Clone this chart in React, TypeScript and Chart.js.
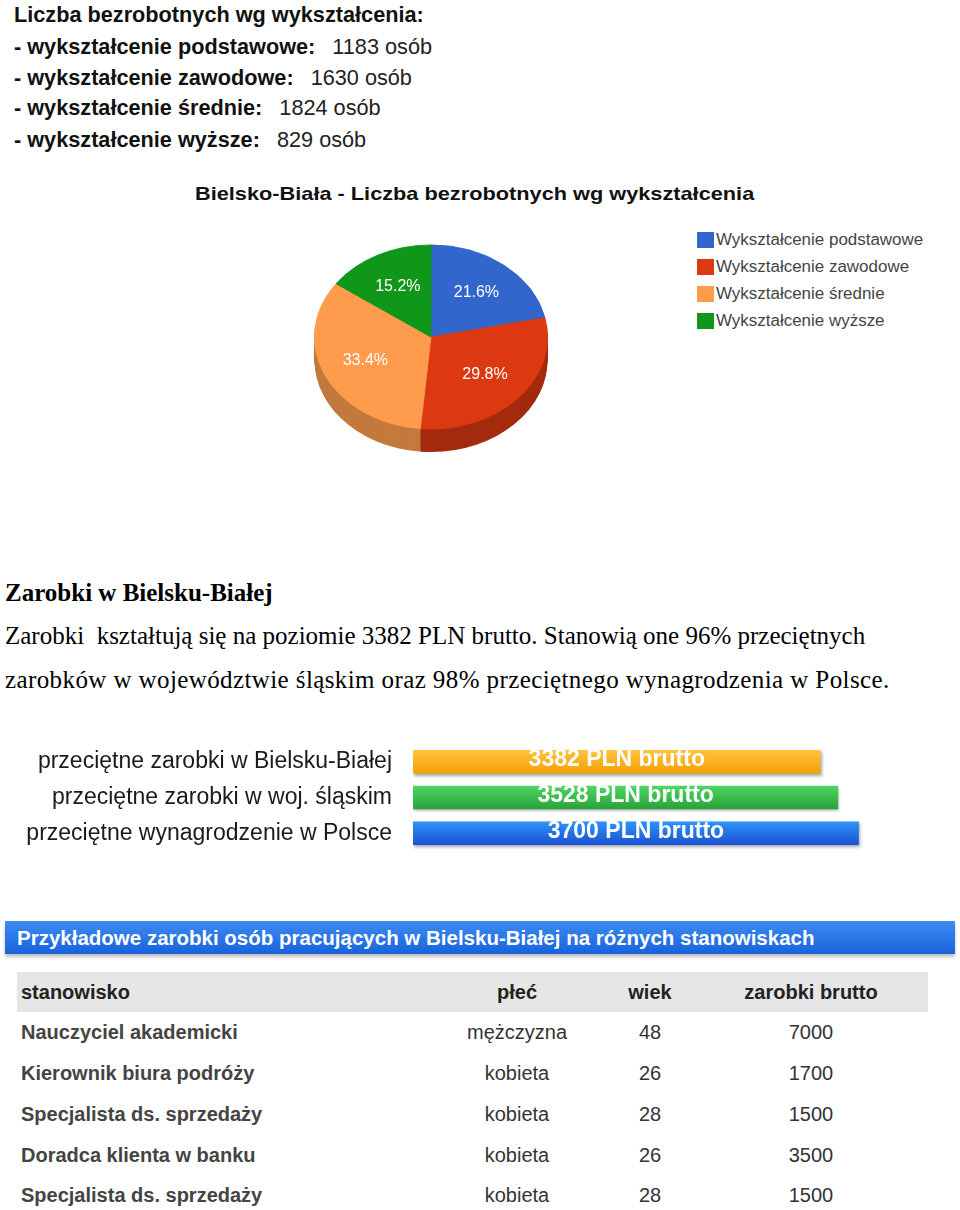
import React, { useEffect, useRef } from 'react';
import { Chart, registerables } from 'chart.js';

Chart.register(...registerables);

const SANS = '"Liberation Sans", Arial, sans-serif';
const SERIF = '"Liberation Serif", "Times New Roman", serif';

// --- unemployment by education ---
const summaryTitle = 'Liczba bezrobotnych wg wykształcenia:';
const summaryLabels = ['wykształcenie podstawowe', 'wykształcenie zawodowe', 'wykształcenie średnie', 'wykształcenie wyższe'];
const educationLabels = ['Wykształcenie podstawowe', 'Wykształcenie zawodowe', 'Wykształcenie średnie', 'Wykształcenie wyższe'];
const unemployedCounts = [1183, 1630, 1824, 829];
const pieColors = ['#3366cc', '#dc3912', '#ff9b4d', '#109618'];
const pieSideColors = ['#264d99', '#a42b0e', '#c37a3d', '#0c7012'];
const pieTitle = 'Bielsko-Biała - Liczba bezrobotnych wg wykształcenia';

// --- wages ---
const wageLabels = ['przeciętne zarobki w Bielsku-Białej', 'przeciętne zarobki w woj. śląskim', 'przeciętne wynagrodzenie w Polsce'];
const wageValues = [3382, 3528, 3700];
const wageTopColors = ['#ffc43f', '#4fd764', '#2c95f8'];
const wageBottomColors = ['#f4a000', '#27a238', '#1b50d3'];

// --- sample jobs table ---
const tableTitle = 'Przykładowe zarobki osób pracujących w Bielsku-Białej na różnych stanowiskach';
const tableHeaders = ['stanowisko', 'płeć', 'wiek', 'zarobki brutto'];
const jobTitles = ['Nauczyciel akademicki', 'Kierownik biura podróży', 'Specjalista ds. sprzedaży', 'Doradca klienta w banku', 'Specjalista ds. sprzedaży'];
const jobGenders = ['mężczyzna', 'kobieta', 'kobieta', 'kobieta', 'kobieta'];
const jobAges = [48, 26, 28, 26, 28];
const jobSalaries = [7000, 1700, 1500, 3500, 1500];

function PieChart() {
  const ref = useRef<HTMLCanvasElement>(null);
  useEffect(() => {
    const TILT = 0.79;
    const DEPTH = 23;
    const total = unemployedCounts.reduce((a, b) => a + b, 0);
    const pie3d = {
      id: 'pie3d',
      beforeDatasetsDraw(chart: any) {
        const ctx = chart.ctx;
        const arcs = chart.getDatasetMeta(0).data;
        const cx = arcs[0].x;
        const cy = arcs[0].y;
        ctx.save();
        ctx.translate(cx, cy);
        ctx.scale(1, TILT);
        ctx.translate(-cx, -cy);
        for (let d = DEPTH; d >= 1; d--) {
          const oy = d / TILT;
          arcs.forEach((a: any, i: number) => {
            const p = a.getProps(['startAngle', 'endAngle', 'outerRadius']);
            ctx.beginPath();
            ctx.moveTo(cx, cy + oy);
            ctx.arc(cx, cy + oy, p.outerRadius, p.startAngle, p.endAngle);
            ctx.closePath();
            ctx.fillStyle = pieSideColors[i];
            ctx.fill();
          });
        }
      },
      afterDatasetsDraw(chart: any) {
        const ctx = chart.ctx;
        ctx.restore();
        const arcs = chart.getDatasetMeta(0).data;
        ctx.save();
        ctx.font = `16px ${SANS}`;
        ctx.fillStyle = '#ffffff';
        ctx.textAlign = 'center';
        ctx.textBaseline = 'middle';
        arcs.forEach((a: any, i: number) => {
          const p = a.getProps(['x', 'y', 'startAngle', 'endAngle', 'outerRadius']);
          const mid = (p.startAngle + p.endAngle) / 2;
          const r = p.outerRadius * 0.62;
          const lx = p.x + Math.cos(mid) * r;
          const ly = p.y + Math.sin(mid) * r * TILT;
          ctx.fillText(((unemployedCounts[i] / total) * 100).toFixed(1) + '%', lx, ly);
        });
        ctx.restore();
      },
    };
    const chart = new Chart(ref.current as HTMLCanvasElement, {
      type: 'pie',
      data: {
        labels: educationLabels,
        datasets: [{ data: unemployedCounts, backgroundColor: pieColors, borderColor: pieColors, borderWidth: 1 }],
      },
      options: {
        animation: false,
        responsive: false,
        maintainAspectRatio: false,
        layout: { padding: 3 },
        plugins: { legend: { display: false }, title: { display: false }, tooltip: { enabled: false } },
      },
      plugins: [pie3d],
    });
    return () => chart.destroy();
  }, []);
  return <canvas ref={ref} width={240} height={240} style={{ position: 'absolute', left: 311, top: 217, width: 240, height: 240 }} />;
}

function WageChart() {
  const ref = useRef<HTMLCanvasElement>(null);
  useEffect(() => {
    const deco = {
      id: 'deco',
      beforeDatasetsDraw(chart: any) {
        const ctx = chart.ctx;
        ctx.save();
        ctx.shadowColor = 'rgba(0,0,0,0.35)';
        ctx.shadowBlur = 3;
        ctx.shadowOffsetX = 1;
        ctx.shadowOffsetY = 2;
      },
      afterDatasetsDraw(chart: any) {
        const ctx = chart.ctx;
        ctx.restore();
        ctx.save();
        ctx.font = `bold 23px ${SANS}`;
        ctx.fillStyle = '#ffffff';
        ctx.textAlign = 'center';
        ctx.textBaseline = 'middle';
        chart.getDatasetMeta(0).data.forEach((bar: any, i: number) => {
          const p = bar.getProps(['x', 'y', 'base']);
          ctx.fillText(`${wageValues[i]} PLN brutto`, (p.x + p.base) / 2, p.y - 2);
        });
        ctx.restore();
      },
    };
    const chart = new Chart(ref.current as HTMLCanvasElement, {
      type: 'bar',
      data: {
        labels: wageLabels,
        datasets: [{
          data: wageValues,
          backgroundColor: (c: any) => {
            const ch = c.chart;
            const i = c.dataIndex;
            if (!ch.chartArea || i === undefined) return wageBottomColors[0];
            const y = ch.scales.y.getPixelForValue(i);
            const g = ch.ctx.createLinearGradient(0, y - 12, 0, y + 12);
            g.addColorStop(0, wageTopColors[i]);
            g.addColorStop(1, wageBottomColors[i]);
            return g;
          },
          borderWidth: 0,
          barPercentage: 0.66,
          categoryPercentage: 1,
        }],
      },
      options: {
        indexAxis: 'y',
        animation: false,
        responsive: false,
        maintainAspectRatio: false,
        layout: { padding: { left: 0, right: 65, top: 4, bottom: 9 } },
        plugins: { legend: { display: false }, tooltip: { enabled: false } },
        scales: {
          x: { type: 'linear', min: 0, max: 4000, display: false },
          y: {
            grid: { display: false, drawTicks: false },
            border: { display: false },
            ticks: { autoSkip: false, padding: 21, color: '#1a1a1a', font: { family: SANS, size: 23 } },
            afterFit: (scale: any) => {
              scale.width = 413;
              scale.paddingTop = 0;
              scale.paddingBottom = 0;
            },
          },
        },
      },
      plugins: [deco],
    });
    return () => chart.destroy();
  }, []);
  return <canvas ref={ref} width={960} height={120} style={{ position: 'absolute', left: 0, top: 740, width: 960, height: 120 }} />;
}

const abs = (left: number, centerY: number, lh: number): React.CSSProperties => ({
  position: 'absolute', left, top: centerY - lh / 2, height: lh, lineHeight: `${lh}px`, whiteSpace: 'nowrap',
});

export default function App() {
  const summaryY = [47, 78, 108, 140];
  const legendY = [240, 267, 294, 321];
  const rowY = [1032, 1073, 1114, 1155, 1195];
  const colW = [433, 134, 132, 190];
  return (
    <div style={{ position: 'absolute', left: 0, top: 0, width: 960, height: 1210, background: '#fff', overflow: 'hidden', fontFamily: SANS }}>
      <div style={{ ...abs(14, 15, 30), fontWeight: 'bold', fontSize: 21.7, color: '#111' }}>{summaryTitle}</div>
      {summaryLabels.map((l, i) => (
        <div key={l} style={{ ...abs(14, summaryY[i], 30), fontSize: 21.7, color: '#222' }}>
          <b style={{ color: '#111' }}>- {l}:</b>
          <span style={{ marginLeft: 17 }}>{unemployedCounts[i]} osób</span>
        </div>
      ))}

      <div style={{ ...abs(195, 194, 26), fontWeight: 'bold', fontSize: 19, color: '#111', transform: 'scaleX(1.144)', transformOrigin: 'left center' }}>{pieTitle}</div>
      <PieChart />
      {educationLabels.map((l, i) => (
        <div key={l}>
          <div style={{ position: 'absolute', left: 697, top: legendY[i] - 8, width: 17, height: 16, background: pieColors[i] }} />
          <div style={{ ...abs(716, legendY[i], 20), fontSize: 16, color: '#444', transform: 'scaleX(1.06)', transformOrigin: 'left center' }}>{l}</div>
        </div>
      ))}

      <div style={{ ...abs(5, 593, 32), fontFamily: SERIF, fontWeight: 'bold', fontSize: 25, color: '#000' }}>Zarobki w Bielsku-Białej</div>
      <div style={{ ...abs(5, 636, 32), fontFamily: SERIF, fontSize: 25, color: '#000' }}>
        Zarobki{'\u00a0 '}kształtują się na poziomie 3382 PLN brutto. Stanowią one 96% przeciętnych
      </div>
      <div style={{ ...abs(5, 680, 32), fontFamily: SERIF, fontSize: 25, color: '#000', letterSpacing: 0.4 }}>
        zarobków w województwie śląskim oraz 98% przeciętnego wynagrodzenia w Polsce.
      </div>

      <WageChart />

      <div style={{ position: 'absolute', left: 5, top: 921, width: 950, height: 33, background: 'linear-gradient(#3d8cf2, #1862dc)', boxShadow: '0 3px 3px rgba(0,0,0,0.25)' }} />
      <div style={{ ...abs(17, 938, 30), fontWeight: 'bold', fontSize: 20.5, color: '#fff' }}>{tableTitle}</div>

      <div style={{ position: 'absolute', left: 17, top: 972, width: 911, height: 40, background: '#e6e6e6' }} />
      {tableHeaders.map((h, c) => {
        const left = 17 + colW.slice(0, c).reduce((a, b) => a + b, 0);
        return (
          <div key={h} style={{ ...abs(left, 992, 30), width: colW[c], textAlign: c === 0 ? 'left' : 'center', paddingLeft: c === 0 ? 4 : 0, boxSizing: 'border-box', fontWeight: 'bold', fontSize: 20, color: '#222' }}>{h}</div>
        );
      })}
      {jobTitles.map((t, r) => {
        const cells = [t, jobGenders[r], String(jobAges[r]), String(jobSalaries[r])];
        return cells.map((v, c) => {
          const left = 17 + colW.slice(0, c).reduce((a, b) => a + b, 0);
          return (
            <div key={`${r}-${c}`} style={{ ...abs(left, rowY[r], 30), width: colW[c], textAlign: c === 0 ? 'left' : 'center', paddingLeft: c === 0 ? 4 : 0, boxSizing: 'border-box', fontWeight: c === 0 ? 'bold' : 'normal', fontSize: 20, color: c === 0 ? '#444' : '#333' }}>{v}</div>
          );
        });
      })}
    </div>
  );
}
